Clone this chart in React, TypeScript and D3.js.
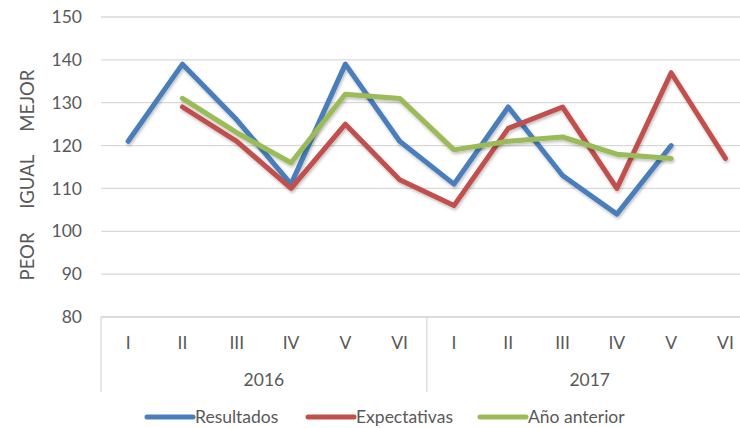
import React, { useEffect, useRef } from "react";
import * as d3 from "d3";

const periods = ["I", "II", "III", "IV", "V", "VI", "I", "II", "III", "IV", "V", "VI"];
const years = ["2016", "2017"];
const yTicks = [80, 90, 100, 110, 120, 130, 140, 150];

const resultados = [121, 139, 126, 111, 139, 121, 111, 129, 113, 104, 120, null];
const expectativas = [null, 129, 121, 110, 125, 112, 106, 124, 129, 110, 137, 117];
const anioAnterior = [null, 131, 123, 116, 132, 131, 119, 121, 122, 118, 117, null];

const seriesNames = ["Resultados", "Expectativas", "Año anterior"];
const colors = ["#4a7ebb", "#c0504d", "#9bbb59"];

export default function App() {
  const ref = useRef<SVGSVGElement>(null);

  useEffect(() => {
    draw();
  }, []);

  let draw = () => {
    const svg = d3.select(ref.current);
    svg.selectAll("*").remove();

    const width = 740;
    const left = 101;
    const top = 17;
    const bottom = 317;
    const step = 54.3;
    const font = "Lato, 'Open Sans', sans-serif";
    const textColor = "#595959";
    const fs = 17.5;

    const keys = periods.map((p, i) => i);
    const xScale = d3
      .scaleBand<number>()
      .domain(keys)
      .range([left, left + step * periods.length]);
    const yScale = d3.scaleLinear().domain([80, 150]).range([bottom, top]);

    // gridlines
    svg
      .append("g")
      .selectAll("line")
      .data(yTicks)
      .enter()
      .append("line")
      .attr("x1", left)
      .attr("x2", width)
      .attr("y1", (d) => yScale(d))
      .attr("y2", (d) => yScale(d))
      .attr("stroke", "#d9d9d9")
      .attr("stroke-width", 1.3);

    // y tick labels
    svg
      .append("g")
      .selectAll("text")
      .data(yTicks)
      .enter()
      .append("text")
      .attr("x", 82)
      .attr("y", (d) => yScale(d))
      .attr("dy", "0.35em")
      .attr("text-anchor", "end")
      .attr("font-family", font)
      .attr("font-size", fs)
      .attr("fill", textColor)
      .text((d) => d);

    // y axis title
    svg
      .append("text")
      .attr("transform", `translate(34, ${(60 + 290) / 2}) rotate(-90)`)
      .attr("text-anchor", "middle")
      .attr("font-family", font)
      .attr("font-size", 18.5)
      .attr("fill", textColor)
      .attr("xml:space", "preserve")
      .style("white-space", "pre")
      .text("PEOR     IGUAL     MEJOR");

    // category axis lines
    const axisBottom = 392;
    svg
      .append("line")
      .attr("x1", left)
      .attr("x2", width)
      .attr("y1", bottom)
      .attr("y2", bottom)
      .attr("stroke", "#d9d9d9")
      .attr("stroke-width", 1.3);
    [0, 6].forEach((i) => {
      svg
        .append("line")
        .attr("x1", xScale(i)!)
        .attr("x2", xScale(i)!)
        .attr("y1", bottom)
        .attr("y2", axisBottom)
        .attr("stroke", "#d9d9d9")
        .attr("stroke-width", 1.3);
    });

    svg
      .append("g")
      .selectAll("text")
      .data(keys)
      .enter()
      .append("text")
      .attr("x", (d) => xScale(d)! + xScale.bandwidth() / 2)
      .attr("y", 343)
      .attr("dy", "0.35em")
      .attr("text-anchor", "middle")
      .attr("font-family", font)
      .attr("font-size", fs)
      .attr("fill", textColor)
      .text((d) => periods[d]);

    svg
      .append("g")
      .selectAll("text")
      .data(years)
      .enter()
      .append("text")
      .attr("x", (d, i) => xScale(i * 6)! + (xScale.bandwidth() * 6) / 2)
      .attr("y", 380)
      .attr("dy", "0.35em")
      .attr("text-anchor", "middle")
      .attr("font-family", font)
      .attr("font-size", fs)
      .attr("fill", textColor)
      .text((d) => d);

    // lines
    const line = d3
      .line<number | null>()
      .defined((d) => d !== null)
      .x((d, i) => xScale(i)! + xScale.bandwidth() / 2)
      .y((d) => yScale(d as number));

    const defs = svg.append("defs");
    defs
      .append("filter")
      .attr("id", "shadow")
      .attr("x", "-10%")
      .attr("y", "-10%")
      .attr("width", "120%")
      .attr("height", "130%")
      .append("feDropShadow")
      .attr("dx", 1)
      .attr("dy", 2)
      .attr("stdDeviation", 1.5)
      .attr("flood-color", "#000")
      .attr("flood-opacity", 0.25);

    [resultados, expectativas, anioAnterior].forEach((s, k) => {
      svg
        .append("path")
        .datum(s)
        .attr("d", line)
        .attr("fill", "none")
        .attr("stroke", colors[k])
        .attr("stroke-width", 5)
        .attr("stroke-linejoin", "round")
        .attr("stroke-linecap", "round")
        .attr("filter", "url(#shadow)");
    });

    // legend
    const legendX = [147, 308, 480];
    const legend = svg
      .append("g")
      .selectAll("g")
      .data(seriesNames)
      .enter()
      .append("g")
      .attr("transform", (d, i) => `translate(${legendX[i]}, 417)`);
    legend
      .append("line")
      .attr("x1", 0)
      .attr("x2", 46)
      .attr("stroke", (d, i) => colors[i])
      .attr("stroke-width", 5)
      .attr("stroke-linecap", "round");
    legend
      .append("text")
      .attr("x", 48)
      .attr("dy", "0.35em")
      .attr("font-family", font)
      .attr("font-size", fs)
      .attr("fill", textColor)
      .text((d) => d);
  };

  return (
    <svg
      ref={ref}
      width={740}
      height={428}
      style={{ position: "absolute", left: 0, top: 0, background: "#fff" }}
    />
  );
}
